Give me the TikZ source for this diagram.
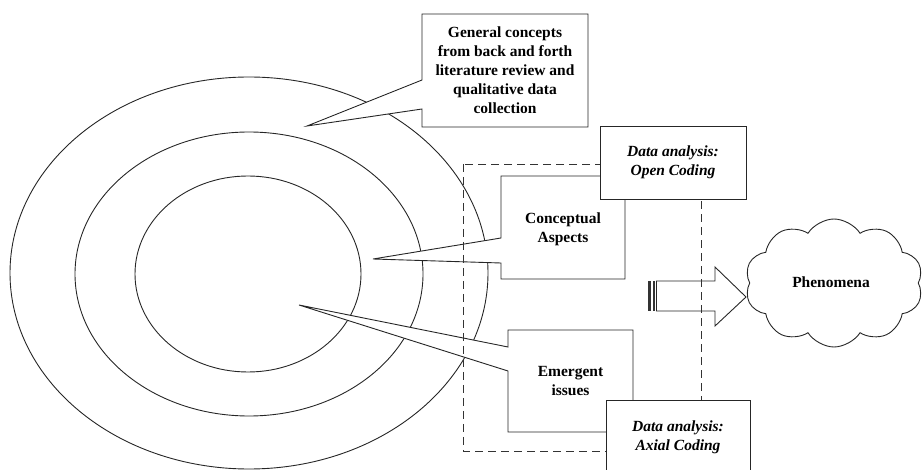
\documentclass[tikz,border=0pt]{standalone}
\usepackage{fontspec}
\setmainfont{Liberation Serif}
\usetikzlibrary{shapes.symbols}
\begin{document}
\begin{tikzpicture}[x=1pt,y=-1pt,
  line width=0.9pt,
  outline/.style={draw=black!85, line width=0.9pt},
  calloutbox/.style={outline, fill=white, line join=miter},
  label/.style={font=\fontsize{15.5}{19}\selectfont\bfseries, align=center, inner sep=0pt},
  ilabel/.style={label, font=\fontsize{15.5}{19}\selectfont\bfseries\itshape},
  codingbox/.style={outline, fill=white},
  frame/.style={draw=black!80, line width=0.9pt, dash pattern=on 8pt off 5pt}]
\useasboundingbox (0,0) rectangle (922,470);

% concentric rings
\draw[outline] (249,273) ellipse [x radius=239, y radius=196];
\draw[outline] (249,274) ellipse [x radius=174, y radius=142];
\draw[outline] (248,274) ellipse [x radius=113, y radius=98];

% pointer tips inside the rings
\coordinate (tipgen) at (307,126);
\coordinate (tipcon) at (373,259);
\coordinate (tipem) at (299,305);

% callout: general concepts
\draw[calloutbox] (tipgen) -- (422,80) -- (422,14) -- (588,14) -- (588,127)
  -- (422,127) -- (422,109) -- cycle;
\node[label] (gen) at (505,70.5) {General concepts\\from back and forth\\literature review and\\qualitative data\\collection};

% callout: conceptual aspects
\draw[calloutbox] (tipcon) -- (501,238) -- (501,176) -- (625,176) -- (625,279)
  -- (501,279) -- (501,263) -- cycle;
\node[label] (con) at (563,229) {Conceptual\\Aspects};

% callout: emergent issues
\draw[calloutbox] (tipem) -- (508,347) -- (508,330) -- (633,330) -- (633,432)
  -- (508,432) -- (508,371) -- cycle;
\node[label] (em) at (570.5,381) {Emergent\\issues};

% striped block arrow
\fill[black!80] (648,281) rectangle (651.2,311);
\fill[black!80] (652.6,281) rectangle (655,311);
\draw[outline, line join=miter] (656.5,281) -- (715,281) -- (715,267) -- (746,297)
  -- (715,326) -- (715,311) -- (656.5,311) -- cycle;
\coordinate (arrowtip) at (746,297);

% dashed analysis frame
\draw[frame] (463,164) rectangle (701,451);

% coding boxes
\node[codingbox, minimum width=146, minimum height=73, anchor=north west] (open) at (600,126) {};
\node[ilabel] (opent) at (673,162) {Data analysis:\\Open Coding};
\node[codingbox, minimum width=144, minimum height=80, anchor=north west] (axial) at (606,400) {};
\node[ilabel] (axialt) at (678,437) {Data analysis:\\Axial Coding};

% phenomena cloud
\node[cloud, cloud puffs=10, cloud puff arc=115, aspect=1.4, outline, fill=white,
  minimum width=178, minimum height=128, inner sep=0pt] (cloud) at (834,283) {};
\node[label] (phen) at (831,282) {Phenomena};
\end{tikzpicture}
\end{document}
